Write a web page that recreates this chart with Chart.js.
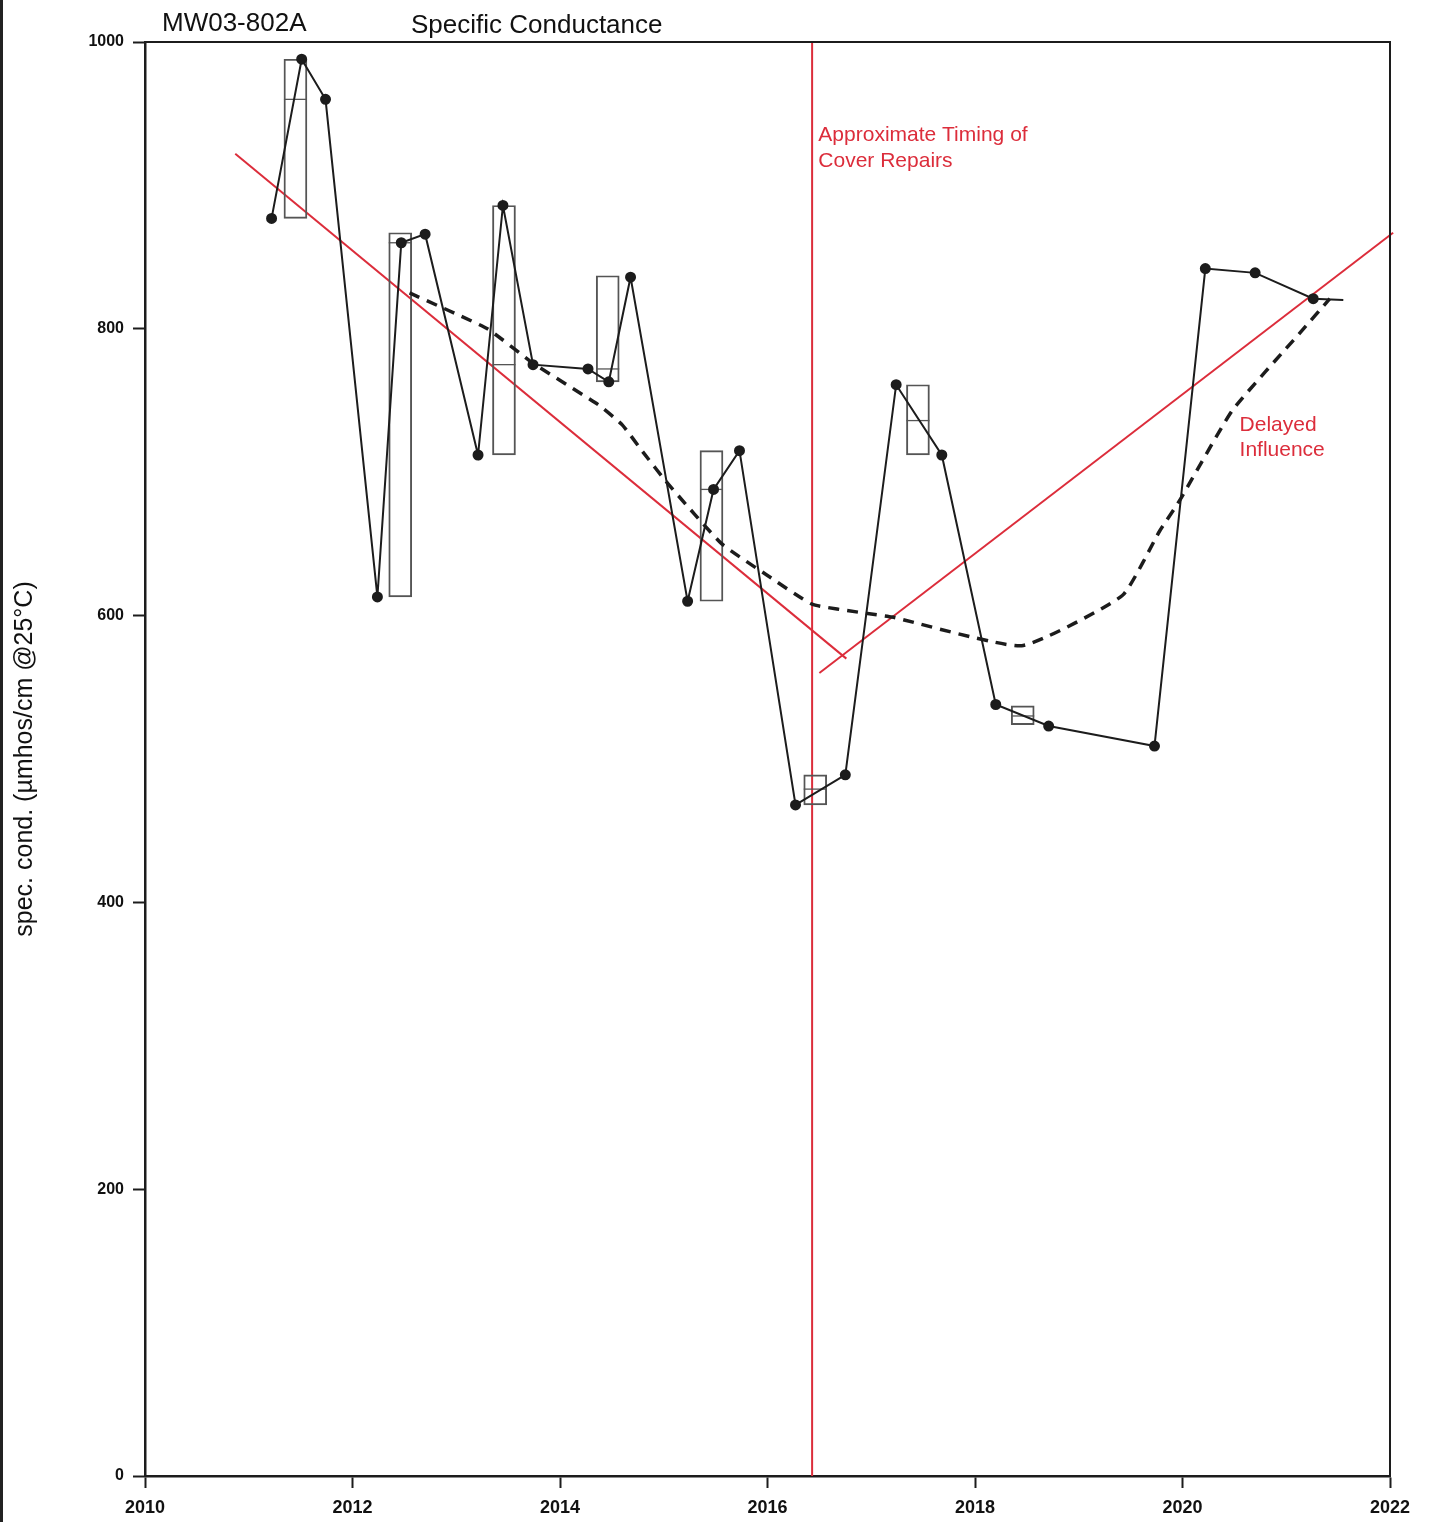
<!DOCTYPE html>
<html>
<head>
<meta charset="utf-8">
<script src="https://cdn.jsdelivr.net/npm/chart.js@4.4.1/dist/chart.umd.min.js"></script>
<style>
  html, body { margin: 0; padding: 0; background: #fff; }
  canvas { display: block; }
</style>
</head>
<body>
<canvas id="scChart" width="1431" height="1522" style="width:1431px;height:1522px"></canvas>
<script>
// sample dates (decimal years) and specific conductance values
const sampleYears = [2011.22, 2011.51, 2011.74, 2012.24, 2012.47, 2012.70, 2013.21, 2013.45, 2013.74,
                     2014.27, 2014.47, 2014.68, 2015.23, 2015.48, 2015.73, 2016.27, 2016.75, 2017.24,
                     2017.68, 2018.20, 2018.71, 2019.73, 2020.22, 2020.70, 2021.26];
const sampleValues = [877, 988, 960, 613, 860, 866, 712, 886, 775,
                      772, 763, 836, 610, 688, 715, 468, 489, 761,
                      712, 538, 523, 509, 842, 839, 821];

// annual range boxes
const boxYears = [2011.45, 2012.46, 2013.46, 2014.46, 2015.46, 2016.46, 2017.45, 2018.46];
const boxLow = [877, 613, 712, 763, 610, 468, 712, 524];
const boxHigh = [988, 867, 886, 837, 715, 489, 761, 537];
const boxMedian = [960, 860, 775, 772, 688, 479, 736, 530];

// smoothed trend (dashed)
const trendYears = [2012.55, 2013.30, 2013.74, 2014.37, 2014.60, 2014.80, 2015.04, 2015.56, 2016.00,
                    2016.43, 2016.91, 2017.20, 2018.45, 2019.42, 2019.78, 2019.97, 2020.48, 2021.13, 2021.42];
const trendValues = [825, 800, 776, 747, 733, 714, 692, 650, 628,
                     608, 602, 599, 579, 614, 659, 680, 743, 797, 821];

// red interpretation lines
const fallYears = [2010.87, 2016.76];
const fallValues = [922, 570];
const riseYears = [2016.50, 2022.03];
const riseValues = [560, 867];
const repairYear = 2016.43;

const xTicks = [2010, 2012, 2014, 2016, 2018, 2020, 2022];
const yTicks = [0, 200, 400, 600, 800, 1000];

const RED = '#dc2d3b';
const INK = '#1c1c1c';

const pts = (xs, ys) => xs.map((x, i) => ({ x: x, y: ys[i] }));

const frame = {
    id: 'frame',
    afterDraw(chart) {
        const { ctx, chartArea: a, scales } = chart;
        ctx.save();
        // top and right border of the plot
        ctx.strokeStyle = INK;
        ctx.lineWidth = 2;
        ctx.beginPath();
        ctx.moveTo(a.left, a.top);
        ctx.lineTo(a.right, a.top);
        ctx.lineTo(a.right, a.bottom);
        ctx.stroke();
        // scanned page edge
        ctx.fillStyle = '#222';
        ctx.fillRect(0, 0, 3, chart.height);

        // titles
        ctx.fillStyle = '#111';
        ctx.textBaseline = 'middle';
        ctx.textAlign = 'left';
        ctx.font = '26px "Liberation Sans", Arial, sans-serif';
        ctx.fillText('MW03-802A', 162, 24);
        ctx.fillText('Specific Conductance', 411, 26);

        // red notes
        const x = scales.x, y = scales.y;
        ctx.fillStyle = RED;
        ctx.font = '21px "Liberation Sans", Arial, sans-serif';
        ctx.fillText('Approximate Timing of', x.getPixelForValue(2016.49), y.getPixelForValue(935));
        ctx.fillText('Cover Repairs', x.getPixelForValue(2016.49), y.getPixelForValue(917));
        ctx.fillText('Delayed', x.getPixelForValue(2020.55), y.getPixelForValue(733));
        ctx.fillText('Influence', x.getPixelForValue(2020.55), y.getPixelForValue(715));
        ctx.restore();
    }
};

new Chart(document.getElementById('scChart'), {
    type: 'line',
    data: {
        datasets: [
            {
                // vertical marker for cover repairs
                data: [{ x: repairYear, y: 0 }, { x: repairYear, y: 1000 }],
                borderColor: RED,
                borderWidth: 2,
                pointRadius: 0,
                order: 5
            },
            {
                data: pts(fallYears, fallValues),
                borderColor: RED,
                borderWidth: 2,
                pointRadius: 0,
                order: 5
            },
            {
                data: pts(riseYears, riseValues),
                borderColor: RED,
                borderWidth: 2,
                pointRadius: 0,
                clip: false,
                order: 5
            },
            {
                type: 'bar',
                data: boxYears.map((x, i) => ({ x: x, y: [boxLow[i], boxHigh[i]] })),
                backgroundColor: 'rgba(0,0,0,0)',
                borderColor: '#555',
                borderWidth: 1.3,
                borderSkipped: false,
                barThickness: 23,
                order: 4
            },
            {
                // box medians
                data: pts(boxYears, boxMedian),
                showLine: false,
                pointStyle: 'line',
                pointRadius: 11.5,
                pointBorderColor: '#555',
                pointBorderWidth: 1.3,
                order: 3
            },
            {
                data: pts(trendYears, trendValues),
                borderColor: INK,
                borderWidth: 3.5,
                borderDash: [11, 8],
                tension: 0.15,
                pointRadius: 0,
                order: 2
            },
            {
                data: pts(sampleYears, sampleValues).concat([{ x: 2021.55, y: 820 }]),
                borderColor: INK,
                borderWidth: 2,
                pointRadius: sampleYears.map(() => 4.5).concat([0]),
                pointBackgroundColor: INK,
                pointBorderColor: INK,
                tension: 0,
                order: 1
            }
        ]
    },
    options: {
        responsive: false,
        animation: false,
        events: [],
        layout: { padding: { top: 42, right: 41, left: 0, bottom: 0 } },
        plugins: { legend: { display: false }, tooltip: { enabled: false } },
        scales: {
            x: {
                type: 'linear',
                min: 2010,
                max: 2022,
                offset: false,
                afterFit: s => { s.height = 46; },
                afterBuildTicks: s => { s.ticks = xTicks.map(v => ({ value: v })); },
                grid: { offset: false, drawOnChartArea: false, tickLength: 12, color: INK, tickWidth: 2 },
                border: { color: INK, width: 2.5 },
                ticks: {
                    color: '#111',
                    padding: 9,
                    maxRotation: 0,
                    font: { family: '"Liberation Sans Narrow", "Liberation Sans", Arial', size: 18, weight: 'bold' },
                    callback: v => String(v)
                }
            },
            y: {
                min: 0,
                max: 1000,
                afterFit: s => { s.width = 145; },
                afterBuildTicks: s => { s.ticks = yTicks.map(v => ({ value: v })); },
                grid: { offset: false, drawOnChartArea: false, tickLength: 12, color: INK, tickWidth: 2 },
                border: { color: INK, width: 2.5 },
                ticks: {
                    color: '#111',
                    padding: 9,
                    font: { family: '"Liberation Sans Narrow", "Liberation Sans", Arial', size: 16, weight: 'bold' },
                    callback: v => String(v)
                },
                title: {
                    display: true,
                    text: 'spec. cond. (µmhos/cm @25°C)',
                    color: '#111',
                    padding: { top: 10, bottom: 0 },
                    font: { family: '"Liberation Sans", Arial', size: 25 }
                }
            }
        }
    },
    plugins: [frame]
});
</script>
</body>
</html>
